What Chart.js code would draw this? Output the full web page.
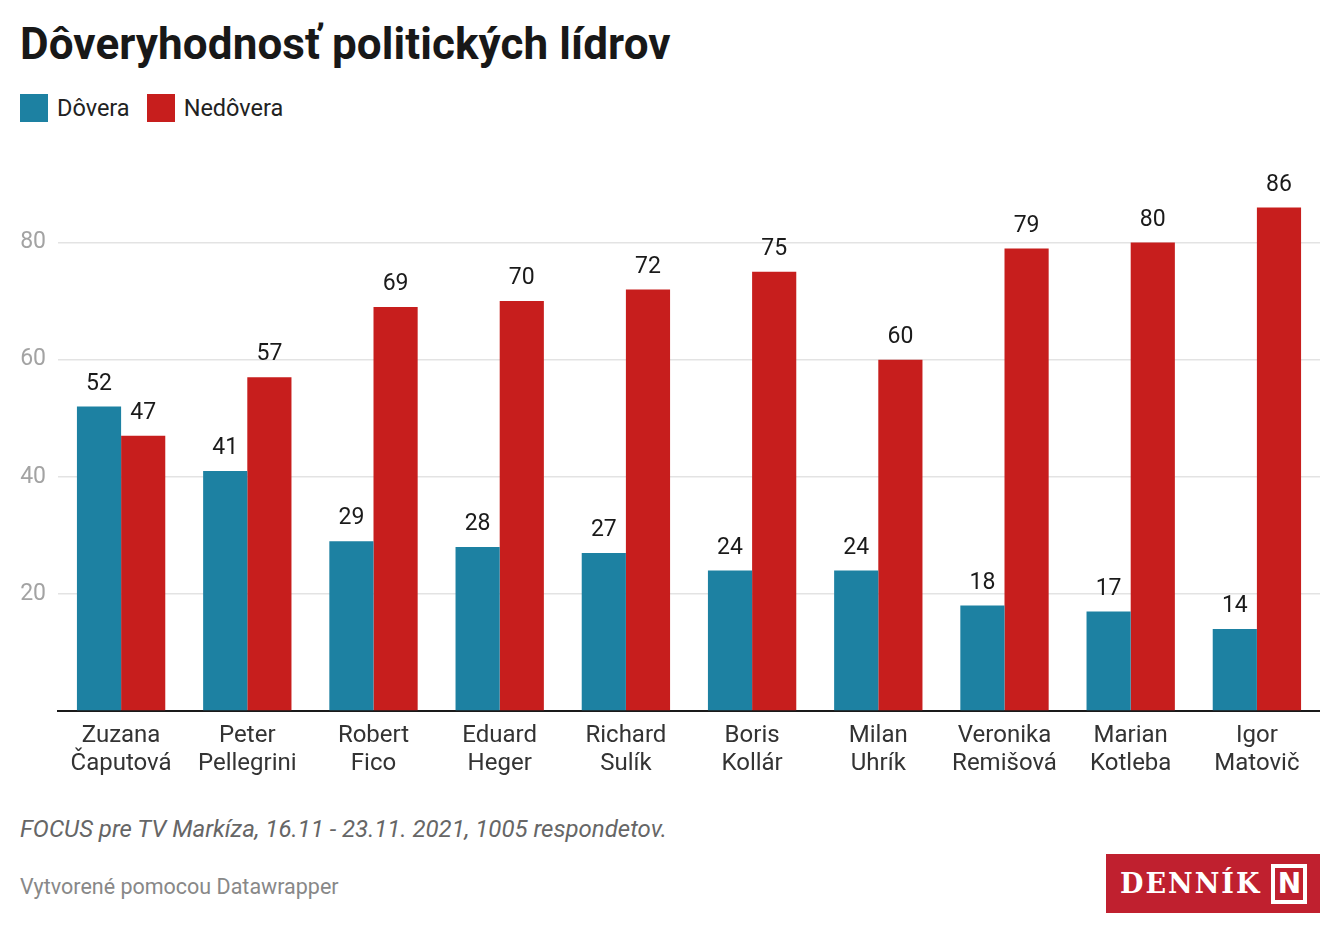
<!DOCTYPE html>
<html lang="sk">
<head>
<meta charset="utf-8">
<title>Dôveryhodnosť politických lídrov</title>
<script src="https://cdn.jsdelivr.net/npm/chart.js@4.4.1/dist/chart.umd.min.js"></script>
<style>
  body { margin: 0; background: #fff; font-family: Roboto, "Noto Sans", sans-serif; }
  #wrap { position: relative; width: 1340px; height: 940px; }
  h1 { position: absolute; left: 20px; top: 18px; margin: 0; font-size: 44px; font-weight: 700; color: #181818; letter-spacing: 0.1px; }
  .legend { position: absolute; top: 94px; left: 20px; display: flex; align-items: center; font-size: 23.5px; color: #222; }
  .legend span.box { display: inline-block; width: 28px; height: 28px; margin-right: 9px; }
  .legend span.item { display: flex; align-items: center; margin-right: 17px; }
  #chartBox { position: absolute; left: 20px; top: 152px; width: 1300px; height: 650px; }
  .source { position: absolute; left: 20px; top: 815px; font-size: 24px; font-style: italic; color: #666; }
  .credit { position: absolute; left: 20px; top: 874px; font-size: 21.5px; color: #888; }
  .logo { position: absolute; left: 1106px; top: 854px; width: 214px; height: 59px; background: #c0202f; display: flex; align-items: center; }
  .logo .word { color: #fff; font-family: "DejaVu Serif", "Liberation Serif", serif; font-weight: 700; font-size: 27px; letter-spacing: 2px; margin-left: 14px; }
  .logo .n { margin-left: 10px; width: 36px; height: 40px; border: 4px solid #fff; box-sizing: border-box; color: #fff; font-family: "DejaVu Sans", sans-serif; font-weight: 700; font-size: 28px; line-height: 32px; text-align: center; }
</style>
</head>
<body>
<div id="wrap">
  <h1>Dôveryhodnosť politických lídrov</h1>
  <div class="legend">
    <span class="item"><span class="box" style="background:#1d81a2"></span>Dôvera</span>
    <span class="item"><span class="box" style="background:#c71e1d"></span>Nedôvera</span>
  </div>
  <div id="chartBox"><canvas id="myChart"></canvas></div>
  <div class="source">FOCUS pre TV Markíza, 16.11 - 23.11. 2021, 1005 respondetov.</div>
  <div class="credit">Vytvorené pomocou Datawrapper</div>
  <div class="logo"><span class="word">DENNÍK</span><span class="n">N</span></div>
</div>
<script>
var leaders = [
    ["Zuzana", "Čaputová"],
    ["Peter", "Pellegrini"],
    ["Robert", "Fico"],
    ["Eduard", "Heger"],
    ["Richard", "Sulík"],
    ["Boris", "Kollár"],
    ["Milan", "Uhrík"],
    ["Veronika", "Remišová"],
    ["Marian", "Kotleba"],
    ["Igor", "Matovič"]
];
var trust = [52, 41, 29, 28, 27, 24, 24, 18, 17, 14];
var distrust = [47, 57, 69, 70, 72, 75, 60, 79, 80, 86];
var yTicks = [20, 40, 60, 80];

// value labels above each bar
var valueLabels = {
    id: 'valueLabels',
    afterDatasetsDraw: function(chart) {
        var ctx = chart.ctx;
        ctx.save();
        ctx.font = '23px Roboto';
        ctx.fillStyle = '#1a1a1a';
        ctx.textAlign = 'center';
        ctx.textBaseline = 'bottom';
        chart.data.datasets.forEach(function(ds, i) {
            var meta = chart.getDatasetMeta(i);
            meta.data.forEach(function(bar, j) {
                ctx.fillText(ds.data[j], bar.x, bar.y - 11);
            });
        });
        ctx.restore();
    }
};

var ctx = document.getElementById('myChart').getContext('2d');
var myChart = new Chart(ctx, {
    type: 'bar',
    data: {
        labels: leaders,
        datasets: [{
            label: 'Dôvera',
            data: trust,
            backgroundColor: '#1d81a2'
        }, {
            label: 'Nedôvera',
            data: distrust,
            backgroundColor: '#c71e1d'
        }]
    },
    options: {
        responsive: true,
        maintainAspectRatio: false,
        animation: false,
        layout: { padding: { top: 32, right: 0, left: 0, bottom: 0 } },
        plugins: {
            legend: { display: false },
            tooltip: { enabled: false }
        },
        datasets: {
            bar: { categoryPercentage: 0.7, barPercentage: 1.0 }
        },
        scales: {
            x: {
                grid: { display: false, drawTicks: false },
                border: { display: true, color: '#1a1a1a', width: 2 },
                ticks: {
                    color: '#333',
                    font: { family: 'Roboto', size: 24, lineHeight: 1.17 },
                    padding: 11,
                    maxRotation: 0,
                    autoSkip: false
                },
                afterFit: function(scale) { scale.height = 91; }
            },
            y: {
                min: 0,
                max: 90,
                afterBuildTicks: function(scale) {
                    scale.ticks = [0].concat(yTicks).map(function(v) { return { value: v }; });
                },
                grid: {
                    color: function(c) { return c.tick && c.tick.value === 0 ? 'rgba(0,0,0,0)' : '#e3e3e3'; },
                    lineWidth: 1.5,
                    drawTicks: false
                },
                border: { display: false },
                ticks: {
                    color: '#a3a3a3',
                    font: { family: 'Roboto', size: 23 },
                    padding: 12,
                    callback: function(v) { return v === 0 ? '' : v; }
                },
                afterFit: function(scale) { scale.width = 38; }
            }
        }
    },
    plugins: [valueLabels]
});
</script>
</body>
</html>
